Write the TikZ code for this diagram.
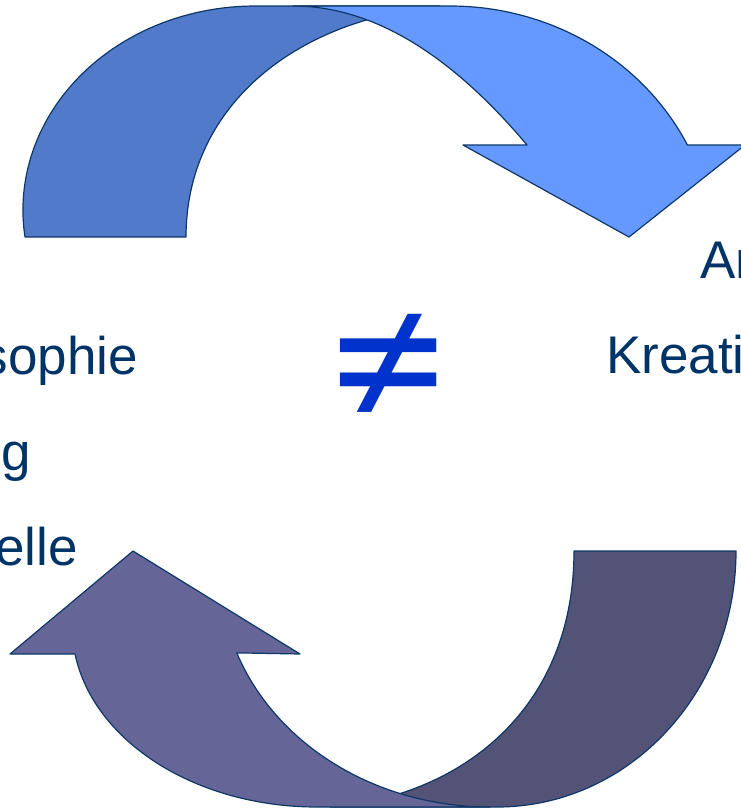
\documentclass[tikz,border=0pt]{standalone}
\usepackage{graphicx}
\usepackage{fontspec}
\setmainfont{Liberation Sans}
\newfontfamily\neqfont{Lato}
\definecolor{topdark}{RGB}{81,123,202}
\definecolor{toplight}{RGB}{102,153,255}
\definecolor{botlight}{RGB}{101,101,152}
\definecolor{botdark}{RGB}{83,83,120}
\definecolor{strokec}{RGB}{14,55,104}
\definecolor{textc}{RGB}{0,51,102}
\definecolor{neqc}{RGB}{0,51,204}
\begin{document}
\begin{tikzpicture}[x=1pt,y=1pt,
  arrowpart/.style={draw=strokec, line width=1.2pt, line join=round},
  lbl/.style={text=textc, font=\fontsize{53}{60}\selectfont, inner sep=0pt}]
\useasboundingbox (0,0) rectangle (741,-809);
\clip (0,0) rectangle (741,-809);
% top arrow, tail piece
\path[arrowpart, fill=topdark]
  (25,-237) arc[start angle=187.6, end angle=90, x radius=232, y radius=204]
  -- (440,-6) .. controls (290,-20) and (186,-110) .. (186,-237) -- cycle;
% top arrow, head piece
\path[arrowpart, fill=toplight]
  (293,-6) -- (450,-6) arc[start angle=90, end angle=26.36, x radius=265, y radius=250]
  -- (745,-145) -- (629,-237) -- (463,-145) -- (527,-145)
  .. controls (449,-52.3) and (371,-6) .. (293,-6) -- cycle;
% bottom arrow, tail piece
\path[arrowpart, fill=botdark]
  (574,-551) -- (736,-551) arc[start angle=0, end angle=-90, x radius=239, y radius=256]
  -- (330,-807) .. controls (460,-797) and (574,-710) .. (574,-551) -- cycle;
% bottom arrow, head piece
\path[arrowpart, fill=botlight]
  (75,-654) arc[start angle=188.9, end angle=270, x radius=245, y radius=181]
  -- (490,-807) arc[start angle=270, end angle=200.3, x radius=270, y radius=236]
  -- (300,-654) -- (133,-551) -- (10,-654) -- cycle;
% texts
\node[lbl, anchor=base east] (t1) at (138,-374) {sophie};
\node[lbl, anchor=base east] (t2) at (31,-470) {g};
\node[lbl, anchor=base east] (t3) at (78,-565) {elle};
\node[lbl, anchor=base west] (t4) at (700,-278) {An};
\node[lbl, anchor=base west] (t5) at (606,-373) {Kreati};
\node[text=neqc, inner sep=0pt, font=\neqfont\fontsize{224}{230}\selectfont] (neq) at (388,-373) {\scalebox{1}[0.91]{≠}};
\end{tikzpicture}
\end{document}
